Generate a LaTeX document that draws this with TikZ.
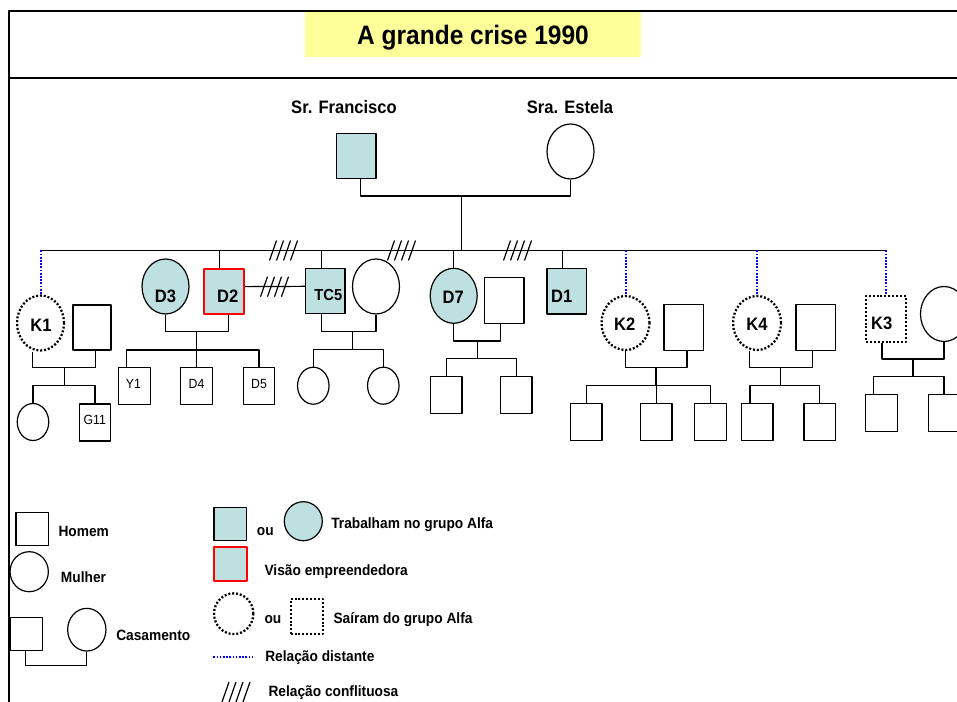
\documentclass[tikz,border=0pt]{standalone}
\usepackage{fontspec}
\setmainfont{Liberation Sans}[FakeStretch=0.92]
\usetikzlibrary{shapes.geometric}
\definecolor{alfa}{RGB}{190,224,225}
\definecolor{amarelo}{RGB}{255,255,153}

\begin{document}
\begin{tikzpicture}[x=0.75pt,y=-0.75pt,line join=round]
	\tikzset{
		tam/.style 2 args={minimum width=#1*0.75pt,minimum height=#2*0.75pt},
		homem/.style={draw,rectangle,inner sep=0pt,line width=0.9pt,tam={39.5}{45.5}},
		mulher/.style={draw,ellipse,inner sep=0pt,line width=0.9pt,tam={47}{55}},
		crianca/.style={tam={31.5}{37}},
		trab/.style={fill=alfa},
		visao/.style={draw=red,line width=1.6pt},
		saiu/.style={line width=1.7pt,dash pattern=on 1.5pt off 1.4pt},
		distante/.style={blue,line width=1.5pt,dash pattern=on 1.3pt off 1.1pt},
		liga/.style={line width=0.9pt},
		nome/.style={font=\bfseries\fontsize{13.5}{14}\selectfont,anchor=base,inner sep=0pt},
		filho/.style={font=\fontsize{10}{11}\selectfont,anchor=base,inner sep=0pt},
		leg/.style={font=\bfseries\fontsize{11.2}{12}\selectfont,anchor=base west,inner sep=0pt},
		conflito/.pic={\foreach \k in {0,...,3} \draw[line width=0.9pt] (\k*7-13.5,10)--++(7,-20);}
	}
	\useasboundingbox (0,0) rectangle (957,702);
	\clip (0,0) rectangle (957,702);
	% moldura e titulo
	\draw[line width=1.4pt] (9,702) -- (9,11) -- (960,11) (9,77.7) -- (960,77.7);
	\node[fill=amarelo,tam={336}{45},text height=14.3pt,text depth=0pt,
		font=\bfseries\fontsize{20}{20}\selectfont] (titulo) at (473,34.5) {A grande crise 1990};
	% pais
	\node[homem,trab] (fran) at (356.3,156) {};
	\node[mulher] (este) at (570.5,151.5) {};
	\node[nome] (tfran) at (344,113.3) {Sr. Francisco};
	\node[nome] (teste) at (570,113.3) {Sra. Estela};
	\coordinate (cpais) at (461.7,196);
	\coordinate (irmaos) at (461.7,250.5);
	\draw[liga] ([xshift=3.3pt]fran.south) |- (cpais) -| (este.south) (cpais) -- (irmaos);
	% filhos
	\node[mulher,saiu] (k1) at (40.5,323) {};
	\node[homem,tam={38}{45}] (k1e) at (92,327.5) {};
	\node[mulher,trab] (d3) at (165.5,286.5) {};
	\node[homem,trab,visao,tam={40}{45.3}] (d2) at (224,291.3) {};
	\node[homem,trab] (tc5) at (325.3,291) {};
	\node[mulher] (tc5e) at (376,286.5) {};
	\node[mulher,trab] (d7) at (453.7,295.8) {};
	\node[homem] (d7e) at (504.3,300.5) {};
	\node[homem,trab] (d1) at (566.7,291.3) {};
	\node[mulher,saiu,tam={48}{54}] (k2) at (625.5,323) {};
	\node[homem] (k2e) at (683.7,327.5) {};
	\node[mulher,saiu,tam={48}{54}] (k4) at (757,323) {};
	\node[homem] (k4e) at (815.7,327.5) {};
	\node[homem,saiu] (k3) at (886,319) {};
	\node[mulher] (k3e) at (944,314) {};
	\node[nome] (rk1) at (41,331.7) {K1};
	\node[nome] (rd3) at (165.5,302.7) {D3};
	\node[nome] (rd2) at (227.8,302.7) {D2};
	\node[nome,font=\bfseries\fontsize{12}{12}\selectfont] (rtc5) at (328.3,300.7) {TC5};
	\node[nome] (rd7) at (453.3,303.3) {D7};
	\node[nome] (rd1) at (561.8,302.7) {D1};
	\node[nome] (rk2) at (624.7,331) {K2};
	\node[nome] (rk4) at (757,331) {K4};
	\node[nome] (rk3) at (881.7,329.3) {K3};
	\draw[liga] (k1.north |- irmaos) -- (k3.north |- irmaos);
	\foreach \n in {k1,k2,k4,k3} \draw[distante] (\n.north |- irmaos) -- (\n.north);
	\foreach \n/\s in {d2/-3.3,tc5/-3,d7/0,d1/-3} \draw[liga] ([xshift=\s pt]\n.north |- irmaos) -- ([xshift=\s pt]\n.north);
	\draw[liga] ([yshift=3.5pt]d2.east) -- ([yshift=3.5pt]tc5.west);
	\pic at (283,250.5) {conflito};
	\pic at (401,250.5) {conflito};
	\pic at (517,250.5) {conflito};
	\pic at (274,286.7) {conflito};
	% netos
	\node[mulher,crianca] (n1) at (33,422) {};
	\node[homem,crianca] (g11) at (95,422.5) {};
	\node[homem,crianca] (y1) at (134.5,385.8) {};
	\node[homem,crianca] (d4) at (196.5,385.8) {};
	\node[homem,crianca] (d5) at (259,385.8) {};
	\node[mulher,crianca] (n2) at (313.3,385.7) {};
	\node[mulher,crianca] (n3) at (383.3,385.7) {};
	\node[homem,crianca] (n4) at (446.2,395) {};
	\node[homem,crianca] (n5) at (516.2,395) {};
	\node[homem,crianca] (n6) at (586.2,422.3) {};
	\node[homem,crianca] (n7) at (656.2,422.3) {};
	\node[homem,crianca] (n8) at (710.5,422.3) {};
	\node[homem,crianca] (n9) at (757.2,422.3) {};
	\node[homem,crianca] (n10) at (819.7,422.3) {};
	\node[homem,crianca] (n11) at (881.5,413) {};
	\node[homem,crianca] (n12) at (944,413) {};
	\node[filho] (rg11) at (94.7,424) {G11};
	\node[filho] (ry1) at (133.4,388.3) {Y1};
	\node[filho] (rd4) at (196.5,388.3) {D4};
	\node[filho] (rd5) at (259,388.3) {D5};
	% casamentos
	\coordinate (c1) at (64.3,367.7); \coordinate (f1) at (64.3,385.7);
	\draw[liga] ([xshift=-5.8pt]k1.south) |- (c1) -| ([xshift=2.7pt]k1e.south) (c1) -- (f1)
		(n1.north) |- (f1) -| (g11.north);
	\coordinate (c2) at (196.7,331.7); \coordinate (f2) at (196.7,350);
	\draw[liga] (d3.south) |- (c2) -| ([xshift=3.2pt]d2.south) (c2) -- (f2)
		([xshift=-5.8pt]y1.north) |- (f2) -| (d5.north) (d4.north) -- (d4.north |- f2);
	\coordinate (c3) at (352.7,331.7); \coordinate (f3) at (352.7,349.3);
	\draw[liga] ([xshift=-3pt]tc5.south) |- (c3) -| (tc5e.south) (c3) -- (f3)
		(n2.north) |- (f3) -| (n3.north);
	\coordinate (c4) at (477.3,341); \coordinate (f4) at (477.3,358.3);
	\draw[liga] (d7.south) |- (c4) -| ([xshift=-2.7pt]d7e.south) (c4) -- (f4)
		(n4.north) |- (f4) -| (n5.north);
	\coordinate (c5) at (656,367.7); \coordinate (f5) at (656,385.3);
	\draw[liga] (k2.south) |- (c5) -| ([xshift=2.5pt]k2e.south) (c5) -- (f5)
		(n6.north) |- (f5) -| (n8.north) (n7.north) -- (n7.north |- f5);
	\coordinate (c6) at (780.7,367.7); \coordinate (f6) at (780.7,385.3);
	\draw[liga] ([xshift=-5.8pt]k4.south) |- (c6) -| ([xshift=-2.7pt]k4e.south) (c6) -- (f6)
		([xshift=-5.4pt]n9.north) |- (f6) -| (n10.north);
	\coordinate (c7) at (913,359); \coordinate (f7) at (913,376.7);
	\draw[liga] ([xshift=-3pt]k3.south) |- (c7) -| (k3e.south) (c7) -- (f7)
		([xshift=-6pt]n11.north) |- (f7) -| (n12.north);
	% legenda
	\node[homem,tam={32.5}{33}] (lh) at (32.2,528.7) {};
	\node[mulher,tam={38.3}{40}] (lm) at (29.2,571.7) {};
	\node[homem,tam={32.5}{33}] (lch) at (26.2,634.2) {};
	\node[mulher,tam={38.3}{42.7}] (lcm) at (86.8,629.7) {};
	\coordinate (lc) at (56,665.7);
	\draw[liga] ([xshift=-0.4pt]lch.south) |- (lc) -| (lcm.south);
	\node[homem,trab,tam={32.7}{33}] (lt1) at (230.3,524.2) {};
	\node[mulher,trab,tam={38}{39}] (lt2) at (303.3,521.2) {};
	\node[homem,trab,visao,tam={32.7}{33.3}] (lv) at (230.3,564) {};
	\node[mulher,saiu,tam={39.3}{40.7}] (ls1) at (233.7,613.7) {};
	\node[homem,saiu,tam={32}{34.7}] (ls2) at (306.7,616.7) {};
	\coordinate (ld1) at (213.3,656.7);
	\coordinate (ld2) at (253.3,656.7);
	\draw[distante] (ld1) -- (ld2);
	\pic at (235.5,692) {conflito};
	\node[leg] (th) at (58.3,536) {Homem};
	\node[leg] (tm) at (60.7,582.3) {Mulher};
	\node[leg] (tc) at (116,640.7) {Casamento};
	\node[leg] (tou1) at (256.7,535.7) {ou};
	\node[leg] (tt) at (331,528.3) {Trabalham no grupo Alfa};
	\node[leg] (tv) at (264.3,575) {Visão empreendedora};
	\node[leg] (tou2) at (264.3,623.3) {ou};
	\node[leg] (ts) at (333.3,623.3) {Saíram do grupo Alfa};
	\node[leg] (td) at (265,661.7) {Relação distante};
	\node[leg] (tcf) at (268.3,696) {Relação conflituosa};
\end{tikzpicture}
\end{document}
